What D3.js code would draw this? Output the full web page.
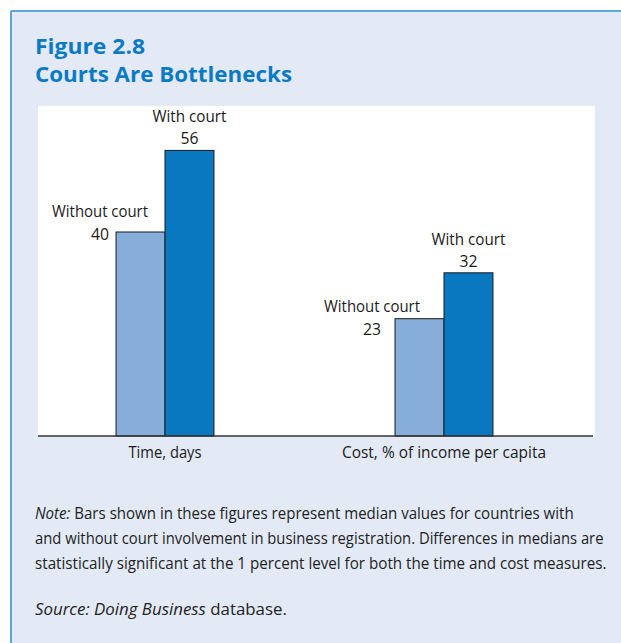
<!DOCTYPE html>
<html>
<head>
<meta charset="utf-8">
<script src="https://cdn.jsdelivr.net/npm/d3@7"></script>
<style>
  html, body { margin: 0; padding: 0; background: #ffffff; }
  svg { display: block; }
  text { font-family: "Liberation Sans Narrow", "Open Sans", "Noto Sans", sans-serif; }
</style>
</head>
<body>
<svg id="chart" width="621" height="643"></svg>
<script>
// ---- data ----
const categories = ["Time, days", "Cost, % of income per capita"];
const series = ["Without court", "With court"];
const withoutCourt = [40, 23];
const withCourt = [56, 32];
const titleLines = ["Figure 2.8", "Courts Are Bottlenecks"];
const sourceText = ["Source: Doing Business", " database."];

// ---- layout ----
const W = 621, H = 643;
const svg = d3.select("#chart");
const plot = { left: 38, right: 595, top: 106, bottom: 436 };

// panel
svg.append("rect").attr("x", 0).attr("y", 0).attr("width", W).attr("height", H).attr("fill", "#ffffff");
svg.append("rect").attr("x", 11).attr("y", 11).attr("width", W).attr("height", H)
  .attr("fill", "#e3eaf6");
svg.append("line").attr("x1", 11).attr("x2", W).attr("y1", 11).attr("y2", 11)
  .attr("stroke", "#5aa6dd").attr("stroke-width", 2);
svg.append("line").attr("x1", 11).attr("x2", 11).attr("y1", 11).attr("y2", H)
  .attr("stroke", "#5aa6dd").attr("stroke-width", 2);

function fitText(sel, w) {
  sel.attr("textLength", w).attr("lengthAdjust", "spacingAndGlyphs");
  return sel;
}
// horizontally squeeze a left-anchored text to width w using a transform
function squeeze(sel, x, yy, w) {
  const nat = sel.node().getComputedTextLength();
  const k = nat > 0 ? w / nat : 1;
  sel.attr("x", 0).attr("y", 0).attr("transform", `translate(${x},${yy}) scale(${k},1)`);
  return sel;
}

// title
const titleY = [54, 82];
const titleW = [110, 257];
titleLines.forEach((t, i) => {
  fitText(svg.append("text").attr("x", 35).attr("y", titleY[i])
    .attr("fill", "#0a7ac4").attr("font-weight", "bold").attr("font-size", 22)
    .attr("font-family", "'Open Sans', 'Noto Sans', sans-serif")
    .text(t), titleW[i]);
});

// white plot area
svg.append("rect").attr("x", plot.left).attr("y", plot.top)
  .attr("width", plot.right - plot.left).attr("height", plot.bottom - plot.top)
  .attr("fill", "#ffffff");

// scales
const y = d3.scaleLinear().domain([0, 64.5]).range([plot.bottom, plot.bottom - 64.5 * 5.1]);
const x0 = d3.scaleBand().domain(categories).range([25.5, 583.5])
  .paddingInner(0.649).paddingOuter(0.3245);
const x1 = d3.scaleBand().domain(series).range([0, x0.bandwidth()]);
const color = d3.scaleOrdinal().domain(series).range(["#87addb", "#0a78c0"]);

const rows = categories.map((c, i) => ({ cat: c, values: [
  { s: series[0], v: withoutCourt[i] },
  { s: series[1], v: withCourt[i] }
]}));

const g = svg.append("g");
const groups = g.selectAll("g.grp").data(rows).join("g")
  .attr("class", "grp")
  .attr("transform", d => `translate(${x0(d.cat)},0)`);

groups.selectAll("rect").data(d => d.values).join("rect")
  .attr("x", d => x1(d.s))
  .attr("y", d => y(d.v))
  .attr("width", x1.bandwidth())
  .attr("height", d => y(0) - y(d.v))
  .attr("fill", d => color(d.s))
  .attr("stroke", "#1a1a1a")
  .attr("stroke-width", 1);

// axis (baseline + category labels)
const xAxis = d3.axisBottom(x0).tickSize(0).tickPadding(0);
const ax = svg.append("g").attr("transform", `translate(0,${plot.bottom})`).call(xAxis);
ax.select(".domain").remove();
svg.append("line").attr("x1", plot.left).attr("x2", plot.right - 2)
  .attr("y1", plot.bottom).attr("y2", plot.bottom)
  .attr("stroke", "#333333").attr("stroke-width", 1.6);
const catW = [73, 204];
ax.selectAll(".tick text")
  .attr("font-size", 16.5).attr("fill", "#1a1a1a")
  .attr("y", 22).attr("dy", 0)
  .attr("font-family", "'Liberation Sans Narrow', 'Open Sans', sans-serif")
  .each(function(d, i) { fitText(d3.select(this), catW[i]); });

// value labels
const labelW = { "Without court": 96, "With court": 74 };
const numW = 18;
// placement tweaks for the "Without court" labels (left of the bar)
const woDx = [-16, -23];
const woDy = [8, 16];
rows.forEach((r, i) => {
  const gx = x0(r.cat);
  const wc = r.values[1];
  const cx = gx + x1(wc.s) + x1.bandwidth() / 2;
  const ty = y(wc.v);
  fitText(svg.append("text").attr("x", cx).attr("y", ty - 28).attr("text-anchor", "middle")
    .attr("font-size", 16.5).attr("fill", "#1a1a1a").text(wc.s), labelW[wc.s]);
  fitText(svg.append("text").attr("x", cx).attr("y", ty - 6).attr("text-anchor", "middle")
    .attr("font-size", 16.5).attr("fill", "#1a1a1a").text(wc.v), numW);
  const wo = r.values[0];
  const lx = gx + x1(wo.s) + woDx[i];
  const ly = y(wo.v) + woDy[i];
  fitText(svg.append("text").attr("x", lx).attr("y", ly - 23).attr("text-anchor", "middle")
    .attr("font-size", 16.5).attr("fill", "#1a1a1a").text(wo.s), labelW[wo.s]);
  fitText(svg.append("text").attr("x", lx).attr("y", ly).attr("text-anchor", "middle")
    .attr("font-size", 16.5).attr("fill", "#1a1a1a").text(wo.v), numW);
});

// note
const noteLines = [
  { it: "Note:", rest: " Bars shown in these figures represent median values for countries with", w: 539 },
  { it: "", rest: "and without court involvement in business registration. Differences in medians are", w: 569 },
  { it: "", rest: "statistically significant at the 1 percent level for both the time and cost measures.", w: 572 }
];
const noteY = [519, 544, 569];
noteLines.forEach((l, i) => {
  const t = svg.append("text")
    .attr("font-size", 15.5).attr("fill", "#222")
    .attr("font-family", "'Liberation Sans Narrow', 'Open Sans', sans-serif");
  if (l.it) t.append("tspan").attr("font-style", "italic").text(l.it);
  t.append("tspan").text(l.rest);
  squeeze(t, 35, noteY[i], l.w);
});
const src = svg.append("text")
  .attr("font-size", 15.5).attr("fill", "#222")
  .attr("font-family", "'Liberation Sans Narrow', 'Open Sans', sans-serif");
src.append("tspan").attr("font-style", "italic").text(sourceText[0]);
src.append("tspan").text(sourceText[1]);
squeeze(src, 35, 615, 252);
</script>
</body>
</html>
